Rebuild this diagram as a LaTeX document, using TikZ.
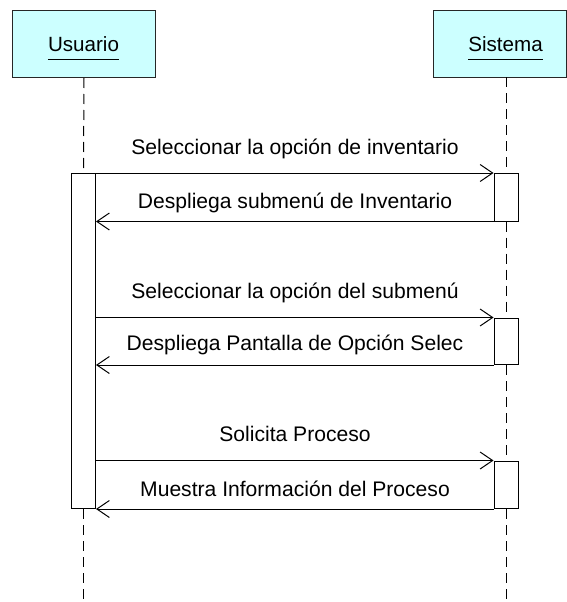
\documentclass[tikz,border=0pt]{standalone}
\usepackage{fontspec}
\setmainfont{Liberation Sans}
\usetikzlibrary{arrows.meta}
\definecolor{actorfill}{HTML}{CCFFFF}
\begin{document}
\begin{tikzpicture}[x=1pt,y=-1pt,
  actorbox/.style={draw=black!85, line width=1pt, fill=actorfill, minimum height=67pt, inner sep=0pt, anchor=north west},
  lbl/.style={font=\fontsize{21.1}{24}\selectfont, inner sep=0pt, anchor=base},
  lifeline/.style={draw=black, line width=1pt, dash pattern=on 10pt off 6pt},
  actbox/.style={draw=black, line width=1pt, fill=white, minimum width=24pt, inner sep=0pt, anchor=north},
  msgline/.style={draw=black, line width=1pt, -{Straight Barb[length=12.5pt,width=17pt]}}
]
\useasboundingbox (0,0) rectangle (566,602);
\fill[white] (0,0) rectangle (566,602);

% actors
\node[actorbox, minimum width=143pt] (ubox) at (12,10) {};
\node[actorbox, minimum width=132.5pt] (sbox) at (433,10) {};
\node[lbl, font=\fontsize{20.6}{24}\selectfont] (utxt) at (83.5,51.7) {Usuario};
\node[lbl, font=\fontsize{20.6}{24}\selectfont] (stxt) at (505.5,51.7) {Sistema};
\draw[line width=1pt] ([yshift=-7pt]utxt.south west) -- ([yshift=-7pt]utxt.south east);
\draw[line width=1pt] ([yshift=-7pt]stxt.south west) -- ([yshift=-7pt]stxt.south east);

% lifeline ends
\coordinate (ubot) at (83.5,602);
\coordinate (stop) at (506,77);
\coordinate (sbot) at (506,602);

% activations
\node[actbox, minimum height=335pt] (uact) at (83.5,173) {};
\node[actbox, minimum height=47.5pt] (sa1) at (506,173) {};
\node[actbox, minimum height=46.5pt] (sa2) at (506,317.5) {};
\node[actbox, minimum height=47.5pt] (sa3) at (506,460.5) {};

% lifelines
\draw[lifeline] (ubox.south) -- (uact.north);
\draw[lifeline] (uact.south) -- (ubot);
\draw[lifeline] (stop) -- (sa1.north);
\draw[lifeline] (sa1.south) -- (sa2.north);
\draw[lifeline] (sa2.south) -- (sa3.north);
\draw[lifeline] (sa3.south) -- (sbot);

% redraw activations on top
\node[actbox, minimum height=335pt] at (83.5,173) {};
\node[actbox, minimum height=47.5pt] at (506,173) {};
\node[actbox, minimum height=46.5pt] at (506,317.5) {};
\node[actbox, minimum height=47.5pt] at (506,460.5) {};

% messages
\draw[msgline] (uact.east |- sa1.north west) -- (sa1.north west);
\draw[msgline] (sa1.south west) -- (uact.east |- sa1.south west);
\draw[msgline] (uact.east |- sa2.north west) -- (sa2.north west);
\draw[msgline] (sa2.south west) -- (uact.east |- sa2.south west);
\draw[msgline] (uact.east |- sa3.north west) -- (sa3.north west);
\draw[msgline] (sa3.south west) -- (uact.east |- sa3.south west);

% labels
\node[lbl] (m1) at (295,154) {Seleccionar la opción de inventario};
\node[lbl] (m2) at (295,208) {Despliega submenú de Inventario};
\node[lbl] (m3) at (295,298) {Seleccionar la opción del submenú};
\node[lbl] (m4) at (295,350.5) {Despliega Pantalla de Opción Selec};
\node[lbl] (m5) at (295,441) {Solicita Proceso};
\node[lbl] (m6) at (295,496) {Muestra Información del Proceso};
\end{tikzpicture}
\end{document}
